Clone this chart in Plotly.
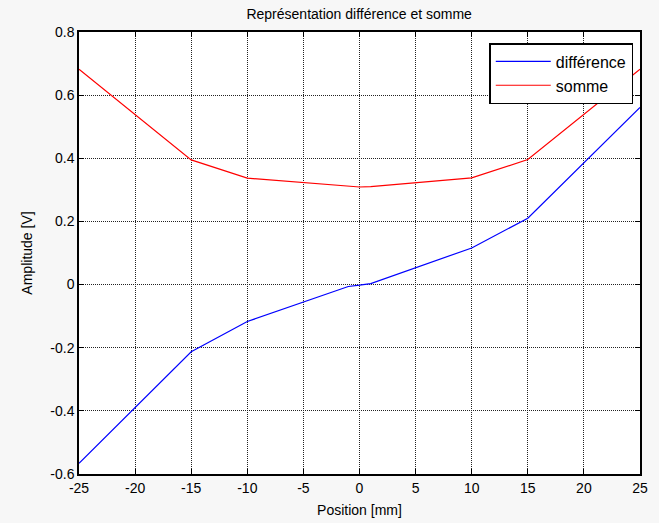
import plotly.graph_objects as go

position = [-25, -15, -10, -1, 0, 1, 10, 15, 25]
difference = [-0.566, -0.213, -0.117, -0.006, -0.002, 0.003, 0.116, 0.210, 0.561]
somme = [0.682, 0.395, 0.337, 0.310, 0.309, 0.310, 0.338, 0.396, 0.682]

x_ticks = [-25, -20, -15, -10, -5, 0, 5, 10, 15, 20, 25]
x_ticklabels = ["-25", "-20", "-15", "-10", "-5", "0", "5", "10", "15", "20", "25"]
y_ticks = [-0.6, -0.4, -0.2, 0, 0.2, 0.4, 0.6, 0.8]
y_ticklabels = ["-0.6", "-0.4", "-0.2", "0", "0.2", "0.4", "0.6", "0.8"]

font = "Liberation Sans, Arial, Helvetica, sans-serif"

fig = go.Figure()
fig.add_trace(go.Scatter(x=position, y=difference, mode="lines", name="différence",
                         line=dict(color="#0000ff", width=1.2)))
fig.add_trace(go.Scatter(x=position, y=somme, mode="lines", name="somme",
                         line=dict(color="#ff0000", width=1.2)))

axis_common = dict(showline=True, linecolor="black", linewidth=1.5, mirror="ticks",
                   ticks="inside", ticklen=5, tickcolor="black", automargin=False,
                   showgrid=True, gridcolor="#222222", gridwidth=1, griddash="1px,1px",
                   zeroline=False, tickfont=dict(family=font, size=14, color="black"))

fig.update_xaxes(range=[-25, 25], tickvals=x_ticks, ticktext=x_ticklabels,
                 title=dict(text="Position [mm]", font=dict(family=font, size=14, color="black"), standoff=11),
                 **axis_common)
fig.update_yaxes(range=[-0.6, 0.8], tickvals=y_ticks, ticktext=y_ticklabels,
                 title=dict(text="Amplitude [V]", font=dict(family=font, size=14, color="black"), standoff=14),
                 **axis_common)

fig.update_layout(
    width=659, height=523,
    margin=dict(l=79, r=19, t=32, b=49),
    paper_bgcolor="#f7f7f7", plot_bgcolor="white",
    title=dict(text="Représentation différence et somme", x=0.545, xanchor="center",
               y=0.973, yanchor="middle",
               font=dict(family=font, size=14, color="black")),
    legend=dict(x=0.988, y=0.975, xanchor="right", yanchor="top",
                bgcolor="white", bordercolor="black", borderwidth=1.5,
                font=dict(family=font, size=16, color="black"),
                tracegroupgap=0, itemwidth=55),
    showlegend=True,
)

fig.write_html("out.html", config={"displayModeBar": False},
               post_script="document.body.style.margin='0px';document.body.style.overflow='hidden';")
